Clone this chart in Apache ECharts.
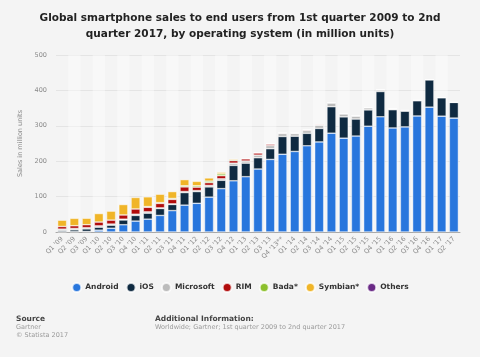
<!DOCTYPE html>
<html>
<head>
<meta charset="utf-8">
<script src="https://cdn.jsdelivr.net/npm/echarts@6/dist/echarts.min.js"></script>
<style>
html,body{margin:0;padding:0;background:#f4f4f4;}
#chart{width:480px;height:357px;}
</style>
</head>
<body>
<div id="chart"></div>
<script>
var categories = ["Q1 '09","Q2 '09","Q3 '09","Q1 '10","Q2 '10","Q3 '10","Q4 '10","Q1 '11","Q2 '11","Q3 '11","Q4 '11","Q1 '12","Q2 '12","Q3 '12","Q4 '12","Q1 '13","Q2 '13","Q3 '13","Q4 '13**","Q1 '14","Q2 '14","Q3 '14","Q4 '14","Q1 '15","Q2 '15","Q3 '15","Q4 '15","Q1 '16","Q2 '16","Q3 '16","Q4 '16","Q1 '17","Q2 '17"];
var android = [0.6,0.8,1.4, 5.2,10.6,20.5,30.8, 36.3,46.8,60.5,75.9, 81.1,98.5,122.5,144.7, 156.2,177.9,205.0,219.6, 227.5,243.5,254.4,279.1, 265.0,271.0,298.8,325.4, 293.8,296.9,327.7,352.7, 327.2,321.8];
var ios = [3.8,5.3,7.4, 8.4,8.7,13.5,16.0, 16.9,19.6,17.3,35.5, 33.1,28.9,23.6,43.5, 38.3,31.9,30.3,50.2, 43.1,35.3,38.2,74.8, 60.2,48.1,46.1,71.5, 51.6,44.4,43.0,77.0, 52.0,44.3];
var microsoft = [3.7,3.8,3.3, 3.7,3.1,2.2,3.4, 3.7,1.7,1.7,2.8, 2.7,4.1,4.1,6.2, 6.0,7.4,8.9,8.5, 7.6,8.1,9.0,10.4, 8.3,8.2,5.9,4.4, 2.4,2.0,1.5,1.1, 0.8,0.4];
var rim = [7.5,7.8,8.5, 10.8,11.2,11.9,14.8, 13.0,12.7,12.7,13.2, 9.9,8.0,8.9,7.3, 6.2,6.2,4.4,1.8, 1.7,2.0,2.4,1.7, 1.3,1.2,1.0,0.9, 0.7,0.4,0.2,0.2, 0.2,0.1];
var bada = [0,0,0, 0,0,0,0, 1.9,2.1,2.5,3.1, 3.8,4.2,5.1,2.7, 1.0,0.8,0.6,0, 0,0,0,0, 0,0,0,0, 0,0,0,0, 0,0];
var symbian = [17.8,20.9,18.3, 24.1,25.4,29.5,32.6, 27.6,23.9,19.5,17.5, 12.5,9.1,4.4,2.6, 1.3,0.6,0.5,0, 0,0,0,0, 0,0,0,0, 0,0,0,0, 0,0];
var others = [0,0,0, 0,0,0,0, 0,0,0,0, 0,0,0,0, 0,0,0,0.6, 0.5,0.5,0.6,0.5, 0.5,0.4,0.3,0.3, 0.2,0.2,0.2,0.1, 0.1,0.1];
var yTicks = [0,100,200,300,400,500];

var seriesDefs = [
  {name:'Android', data:android, color:'#2876dd'},
  {name:'iOS', data:ios, color:'#0f2a41'},
  {name:'Microsoft', data:microsoft, color:'#bcbcbc'},
  {name:'RIM', data:rim, color:'#b10c0c'},
  {name:'Bada*', data:bada, color:'#8cc02c'},
  {name:'Symbian*', data:symbian, color:'#f0b528'},
  {name:'Others', data:others, color:'#6a2a86'}
];

var chart = echarts.init(document.getElementById('chart'), null, {renderer:'canvas'});
var font = 'DejaVu Sans';
chart.setOption({
  backgroundColor:'#f4f4f4',
  animation:false,
  title:{
    text:'Global smartphone sales to end users from 1st quarter 2009 to 2nd\nquarter 2017, by operating system (in million units)',
    left:'center', top:5,
    textStyle:{fontFamily:font, fontSize:10.5, fontWeight:'bold', color:'#222', lineHeight:16}
  },
  legend:{
    data:seriesDefs.map(function(s){return s.name;}),
    bottom:59, left:'center',
    icon:'circle', itemWidth:9, itemHeight:9, itemGap:7,
    textStyle:{fontFamily:font, fontSize:7.5, fontWeight:'bold', color:'#333', padding:[0,0,0,-1]}
  },
  grid:{left:56, right:20, top:55, bottom:125},
  xAxis:{
    type:'category', data:categories,
    axisLine:{lineStyle:{color:'#a8a8a8'}},
    axisTick:{show:false},
    axisLabel:{rotate:45, interval:0, fontFamily:font, fontSize:6.5, color:'#8a8a8a', margin:6},
    splitArea:{show:true, areaStyle:{color:['rgba(0,0,0,0)','rgba(255,255,255,0.4)']}}
  },
  yAxis:{
    type:'value', min:yTicks[0], max:yTicks[yTicks.length-1], interval:100,
    name:'Sales in million units', nameLocation:'middle', nameGap:31,
    nameTextStyle:{fontFamily:font, fontSize:6.5, color:'#8a8a8a'},
    axisLine:{show:false}, axisTick:{show:false},
    axisLabel:{fontFamily:font, fontSize:6.5, color:'#8a8a8a', margin:9},
    splitLine:{lineStyle:{color:'#e4e4e4'}}
  },
  series:seriesDefs.map(function(s){
    return {
      name:s.name, type:'bar', stack:'total', barCategoryGap:'26%',
      data:s.data.map(function(v){return v>0?v:null;}),
      itemStyle:{color:s.color, borderColor:'rgba(255,255,255,0.75)', borderWidth:0.6}
    };
  }),
  graphic:[
    {type:'text', left:16, top:315, style:{text:'Source', font:'bold 7.5px "DejaVu Sans"', fill:'#444'}},
    {type:'text', left:16, top:324, style:{text:'Gartner', font:'6.5px "DejaVu Sans"', fill:'#9a9a9a'}},
    {type:'text', left:16, top:331.5, style:{text:'\u00a9 Statista 2017', font:'6.5px "DejaVu Sans"', fill:'#9a9a9a'}},
    {type:'text', left:155, top:315, style:{text:'Additional Information:', font:'bold 7.5px "DejaVu Sans"', fill:'#444'}},
    {type:'text', left:155, top:324, style:{text:'Worldwide; Gartner; 1st quarter 2009 to 2nd quarter 2017', font:'6.5px "DejaVu Sans"', fill:'#9a9a9a'}}
  ]
});
</script>
</body>
</html>
